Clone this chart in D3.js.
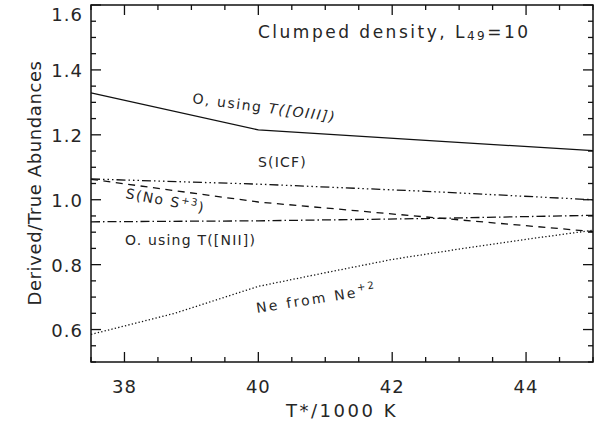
<!DOCTYPE html>
<html>
<head>
<meta charset="utf-8">
<script src="https://cdn.jsdelivr.net/npm/d3@7"></script>
<style>
  body { margin: 0; background: #fff; }
  svg text { font-family: "DejaVu Sans", "Liberation Sans", sans-serif; fill: #262626; }
</style>
</head>
<body>
<svg id="chart" width="601" height="428"></svg>
<script>
// temperatures (T*/1000 K) and derived/true abundance ratios
const tGrid = [37.5, 40, 42.5, 45];
const oOIII = [1.329, 1.215, 1.183, 1.151];
const sICF = [1.064, 1.048, 1.026, 1.0];
const sNoS3 = [1.063, 0.993, 0.947, 0.902];
const oNII = [0.932, 0.935, 0.942, 0.952];
const neT = [37.5, 38.75, 40, 41, 42, 43, 44, 45];
const neVals = [0.585, 0.65, 0.733, 0.775, 0.816, 0.848, 0.878, 0.906];

const xTicks = [38, 40, 42, 44];
const yTicks = [0.6, 0.8, 1.0, 1.2, 1.4, 1.6];

const svg = d3.select('#chart');
const pL = 91, pR = 593, pT = 5, pB = 362;

const x = d3.scaleLinear().domain([37.5, 45]).range([pL, pR]);
const y = d3.scaleLinear().domain([0.5, 1.6]).range([pB, pT]);

// series with IDL-like line styles
const series = [
    { t: tGrid, v: oOIII, dash: null },
    { t: tGrid, v: sICF, dash: '9,3,1.5,3,1.5,3,1.5,3' },
    { t: tGrid, v: sNoS3, dash: '7,5.5' },
    { t: tGrid, v: oNII, dash: '9,3,1.5,3' },
    { t: neT, v: neVals, dash: '1.3,2.2' }
];

const line = d3.line().x(d => x(d[0])).y(d => y(d[1]));

series.forEach(s => {
    svg.append('path')
        .datum(s.t.map((t, i) => [t, s.v[i]]))
        .attr('d', line)
        .attr('fill', 'none')
        .attr('stroke', '#111')
        .attr('stroke-width', 1.3)
        .attr('stroke-dasharray', s.dash);
});

// frame
svg.append('rect')
    .attr('x', pL).attr('y', pT)
    .attr('width', pR - pL).attr('height', pB - pT)
    .attr('fill', 'none').attr('stroke', '#111').attr('stroke-width', 1.5);

// ticks on all four sides, pointing in
const xMinor = d3.range(37.5, 45.01, 0.5);
const yMinor = d3.range(0.5, 1.601, 0.05);
function tickLen(v, majors) { return majors.some(m => Math.abs(m - v) < 1e-6) ? 10 : 5; }

const tk = svg.append('g').attr('stroke', '#111').attr('stroke-width', 1.3);
xMinor.forEach(v => {
    const L = tickLen(v, xTicks);
    tk.append('line').attr('x1', x(v)).attr('x2', x(v)).attr('y1', pB).attr('y2', pB - L);
    tk.append('line').attr('x1', x(v)).attr('x2', x(v)).attr('y1', pT).attr('y2', pT + L);
});
yMinor.forEach(v => {
    const L = tickLen(v, yTicks);
    tk.append('line').attr('y1', y(v)).attr('y2', y(v)).attr('x1', pL).attr('x2', pL + L);
    tk.append('line').attr('y1', y(v)).attr('y2', y(v)).attr('x1', pR).attr('x2', pR - L);
});

// tick labels
svg.selectAll('.xl').data(xTicks).enter().append('text')
    .attr('x', d => x(d)).attr('y', 393)
    .attr('text-anchor', 'middle').attr('font-size', 18).attr('letter-spacing', 1)
    .text(d => d);
svg.selectAll('.yl').data(yTicks).enter().append('text')
    .attr('x', 83).attr('y', d => Math.max(y(d), 14) + 7)
    .attr('text-anchor', 'end').attr('font-size', 18).attr('letter-spacing', 1)
    .text(d => d.toFixed(1));

// axis titles
svg.append('text').attr('x', 342).attr('y', 417)
    .attr('text-anchor', 'middle').attr('font-size', 18).attr('letter-spacing', 2.5)
    .text('T*/1000 K');
svg.append('text')
    .attr('transform', 'translate(41,183) rotate(-90)')
    .attr('text-anchor', 'middle').attr('font-size', 18).attr('letter-spacing', 0.6)
    .text('Derived/True Abundances');

// title
const ttl = svg.append('text').attr('x', 258).attr('y', 38).attr('font-size', 17).attr('letter-spacing', 2.5);
ttl.append('tspan').text('Clumped density, L');
ttl.append('tspan').attr('font-size', 12).attr('dy', 2).text('49');
ttl.append('tspan').attr('dy', -2).text('=10');

// curve labels
function label(tx, ty, rot, ls, parts) {
    const t = svg.append('text')
        .attr('transform', `translate(${tx},${ty}) rotate(${rot})`)
        .attr('font-size', 14).attr('letter-spacing', ls);
    parts.forEach(p => {
        const s = t.append('tspan').text(p.s);
        if (p.dy) s.attr('dy', p.dy);
        if (p.fs) s.attr('font-size', p.fs);
        if (p.it) s.attr('font-style', 'italic');
    });
}
label(192, 103, 7.5, 1.6, [{ s: 'O, using ' }, { s: 'T([OIII])', it: true }]);
label(258, 167, 0, 1.2, [{ s: 'S(ICF)' }]);
label(125, 198, 10.5, 1.5, [{ s: 'S(No S' }, { s: '+3', fs: 10, dy: -5 }, { s: ')', dy: 5 }]);
label(125, 245, 0, 1.2, [{ s: 'O. using T([NII])' }]);
label(257, 313, -9, 2.3, [{ s: 'Ne from Ne' }, { s: '+2', fs: 10, dy: -6 }]);
</script>
</body>
</html>
